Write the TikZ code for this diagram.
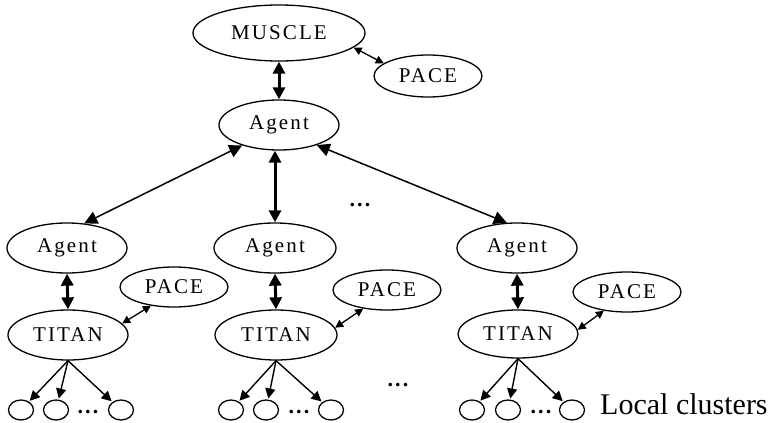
\documentclass[tikz,border=0pt]{standalone}
\usepackage{fontspec}
\setmainfont{Liberation Serif}
\newfontfamily\lblfont[LetterSpace=10]{Liberation Serif}
\usetikzlibrary{arrows.meta,shapes.geometric}
\begin{document}
\begin{tikzpicture}[x=1pt,y=-1pt,
  oval/.style={ellipse,draw,line width=1.3pt,inner sep=0pt,
    font=\lblfont\fontsize{21}{24}\selectfont},
  bigoval/.style={oval,minimum width=120pt,minimum height=50pt},
  paceoval/.style={oval,minimum width=108pt,minimum height=40pt},
  leaf/.style={ellipse,draw,line width=1.3pt,inner sep=0pt,minimum width=25pt,minimum height=20pt},
  dotstext/.style={anchor=base,inner sep=0pt,font=\lblfont\bfseries\fontsize{22}{24}\selectfont},
  thicklink/.style={line width=3pt,arrows={Triangle[length=12pt,width=12pt]-Triangle[length=12pt,width=12pt]}},
  thinlink/.style={line width=1.5pt,arrows={Triangle[length=13pt,width=13pt]-Triangle[length=13pt,width=13pt]}},
  pacelink/.style={line width=1.3pt,arrows={Triangle[length=8pt,width=8pt]-Triangle[length=8pt,width=8pt]}},
  leaflink/.style={line width=1.4pt,arrows={-Triangle[length=10pt,width=10pt]},shorten >=1pt},
]
\useasboundingbox (0,0) rectangle (772,423);

% top level
\node[oval,minimum width=172pt,minimum height=56pt] (muscle) at (279,33) {MUSCLE};
\node[oval,minimum width=108pt,minimum height=42pt] (pacetop) at (428,76) {PACE};
\node[bigoval] (atop) at (279,125) {Agent};

% second level agents
\node[bigoval] (al) at (67,248) {Agent};
\node[bigoval,minimum width=122pt] (am) at (275,248) {Agent};
\node[bigoval] (ar) at (517,248) {Agent};

% TITAN nodes
\node[bigoval] (tl) at (68,335) {TITAN};
\node[bigoval,minimum width=122pt] (tm) at (276,335) {TITAN};
\node[bigoval,minimum height=48pt] (tr) at (518,334) {TITAN};

% PACE nodes
\node[paceoval] (pl) at (174,287) {PACE};
\node[paceoval] (pm) at (387,290) {PACE};
\node[paceoval] (pr) at (627,292) {PACE};

% local clusters
\foreach \n/\x in {l1/21,l2/56,l3/121,m1/231,m2/266,m3/331,r1/472,r2/508,r3/572}
  \node[leaf] (\n) at (\x,410) {};

\node[dotstext] (dl) at (88,413) {...};
\node[dotstext] (dm) at (299,413) {...};
\node[dotstext] (dr) at (541,413) {...};
\node[dotstext] (dtop) at (360,206) {...};
\node[dotstext] (dmid) at (398,386) {...};
\node[anchor=base west,inner sep=0pt,font=\fontsize{30}{33}\selectfont] (lc) at (600,414) {Local clusters};

% connectors
\draw[thicklink] (muscle.south) -- (atop.north);
\draw[pacelink] (muscle.-11) -- (pacetop.164);
\draw[thinlink] (atop.209) -- (al.55);
\draw[thicklink] (am.north |- atop.south) -- (am.north);
\draw[thinlink] (atop.-28) -- (ar.112);

\draw[thicklink] (al.south) -- (tl.north);
\draw[thicklink] (am.south) -- (tm.north);
\draw[thicklink] (ar.south) -- (tr.north);

\draw[pacelink] (tl.12) -- (pl.219);
\draw[pacelink] (tm.7) -- (pm.218);
\draw[pacelink] (tr.4) -- (pr.219);

\foreach \t/\a/\b/\c in {tl/l1/l2/l3,tm/m1/m2/m3,tr/r1/r2/r3}{
  \draw[leaflink] (\t.south) -- (\a);
  \draw[leaflink] (\t.south) -- (\b);
  \draw[leaflink] (\t.south) -- (\c);
}
\end{tikzpicture}
\end{document}
